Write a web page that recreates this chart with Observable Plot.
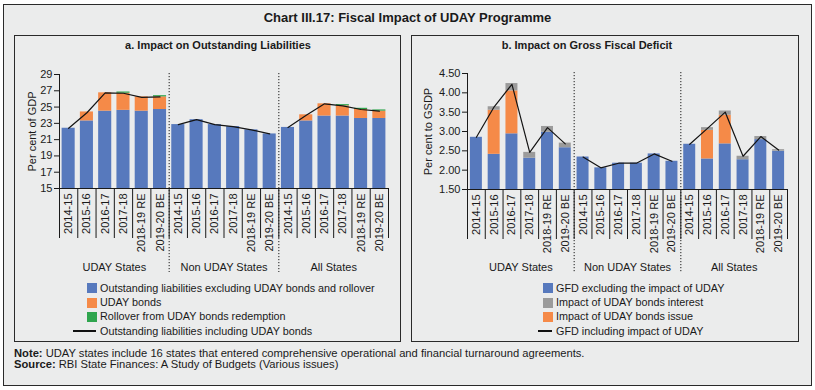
<!DOCTYPE html>
<html>
<head>
<meta charset="utf-8">
<script src="https://cdn.jsdelivr.net/npm/d3@7"></script>
<script src="https://cdn.jsdelivr.net/npm/@observablehq/plot@0.6"></script>
<style>
  body { margin:0; background:#fff; font-family:"Liberation Sans", Arial, sans-serif; color:#1a1a1a; }
  #root { position:relative; width:815px; height:390px; overflow:hidden; }
  .abs { position:absolute; }
  .box { position:absolute; box-sizing:border-box; border:1px solid #2a2a2a; background:#ebecec; }
  .title { font-weight:bold; white-space:nowrap; }
  .leg { position:absolute; font-size:10.8px; white-space:nowrap; line-height:12px; }
  .sw { position:absolute; width:10px; height:10px; }
  .ln { position:absolute; height:2px; background:#111; }
  .note { position:absolute; left:14px; font-size:11.2px; white-space:nowrap; line-height:10.5px; }
</style>
</head>
<body>
<div id="root">
  <div class="box" style="left:3px;top:4px;width:809px;height:382px;"></div>
  <div class="abs title" style="left:0;top:10px;width:815px;text-align:center;font-size:13px;">Chart III.17: Fiscal Impact of UDAY Programme</div>
  <div class="box" style="left:14px;top:35px;width:387px;height:307px;"></div>
  <div class="box" style="left:411px;top:35px;width:388px;height:307px;"></div>
  <div class="abs title" style="left:118px;top:39px;width:200px;text-align:center;font-size:11px;">a. Impact on Outstanding Liabilities</div>
  <div class="abs title" style="left:487px;top:39px;width:200px;text-align:center;font-size:11px;">b. Impact on Gross Fiscal Deficit</div>
  <div id="chartA" class="abs" style="left:14px;top:60px;"></div>
  <div id="chartB" class="abs" style="left:411px;top:60px;"></div>
  <div id="legA"></div>
  <div id="legB"></div>
  <div class="note" style="top:348px;"><b>Note:</b> UDAY states include 16 states that entered comprehensive operational and financial turnaround agreements.</div>
  <div class="note" style="top:359px;"><b>Source:</b> RBI State Finances: A Study of Budgets (Various issues)</div>
</div>
<script>
// ---------- data ----------
const years = ["2014-15", "2015-16", "2016-17", "2017-18", "2018-19 RE", "2019-20 BE"];
const groups = ["UDAY States", "Non UDAY States", "All States"];

// Panel a: per cent of GDP (UDAY | Non UDAY | All)
const liabExcl  = [22.4, 23.3, 24.5, 24.6, 24.5, 24.7,   22.85, 23.45, 22.85, 22.6, 22.2, 21.7,   22.5, 23.3, 23.9, 23.9, 23.6, 23.6];
const udayBonds = [0.0, 1.1, 2.25, 2.1, 1.75, 1.55,      0, 0, 0, 0, 0, 0,                         0.0, 0.75, 1.5, 1.25, 1.1, 0.9];
const rollover  = [0, 0, 0, 0.15, 0, 0.15,               0, 0, 0, 0, 0, 0,                         0, 0, 0, 0.15, 0.15, 0.15];
const liabIncl  = [22.4, 24.3, 26.75, 26.7, 26.2, 26.25, 22.85, 23.45, 22.85, 22.6, 22.2, 21.7,   22.5, 24.0, 25.4, 25.15, 24.7, 24.5];

// Panel b: per cent to GSDP
const gfdExcl      = [2.85, 2.41, 2.94, 2.31, 2.98, 2.58,  2.34, 2.06, 2.18, 2.18, 2.42, 2.23,  2.67, 2.29, 2.68, 2.27, 2.79, 2.49];
const udayIssue    = [0, 1.14, 1.11, 0, 0, 0,               0, 0, 0, 0, 0, 0,                    0, 0.74, 0.74, 0, 0, 0];
const udayInterest = [0, 0.09, 0.19, 0.15, 0.15, 0.12,      0, 0, 0, 0, 0, 0,                    0, 0.07, 0.11, 0.09, 0.08, 0.04];
const gfdIncl      = [2.85, 3.64, 4.22, 2.46, 3.10, 2.68,  2.34, 2.06, 2.18, 2.18, 2.42, 2.23,  2.67, 3.08, 3.50, 2.36, 2.87, 2.52];

const yTicksA = [15, 17, 19, 21, 23, 25, 27, 29];
const yTicksB = [1.5, 2.0, 2.5, 3.0, 3.5, 4.0, 4.5];

const legendA = ["Outstanding liabilities excluding UDAY bonds and rollover", "UDAY bonds", "Rollover from UDAY bonds redemption", "Outstanding liabilities including UDAY bonds"];
const legendB = ["GFD excluding the impact of UDAY", "Impact of UDAY bonds interest", "Impact of UDAY bonds issue", "GFD including impact of UDAY"];

const BLUE = "#5779bd", ORANGE = "#f58a48", GREEN = "#2fa54e", GRAY = "#9b9b9b";

// ---------- helpers ----------
const n = years.length * groups.length;
const idx = d3.range(n);
const centers = idx.map(i => i + 0.5);
const bounds = d3.range(n + 1);
const groupCenters = groups.map((g, k) => (k + 0.5) * years.length);
const groupSeps = groups.slice(1).map((g, k) => (k + 1) * years.length);

function stack(base, layers) {
  const out = [];
  idx.forEach(i => {
    let y0 = base;
    layers.forEach(([vals, color, first]) => {
      const y1 = first ? vals[i] : y0 + vals[i];
      if (y1 > y0) out.push({x1: i, x2: i + 1, y1: y0, y2: y1, fill: color});
      y0 = y1;
    });
  });
  return out;
}

function panel({segments, incl, yDomain, yTicks, yFmt, yLabel, width, height, mL, mR, mT, mB, inset, labelDx, groupDy}) {
  const lineData = idx.map(i => ({x: i + 0.5, y: incl[i], g: Math.floor(i / years.length)}));
  return Plot.plot({
    width, height, marginLeft: mL, marginRight: mR, marginTop: mT, marginBottom: mB,
    style: {background: "transparent", fontFamily: "'Liberation Sans', Arial, sans-serif", fontSize: "11px", color: "#1a1a1a", overflow: "visible"},
    x: {domain: [0, n], axis: null},
    y: {domain: yDomain, axis: null},
    color: {type: "identity"},
    marks: [
      Plot.rect(segments, {x1: "x1", x2: "x2", y1: "y1", y2: "y2", fill: "fill", insetLeft: inset, insetRight: inset}),
      Plot.line(lineData, {x: "x", y: "y", z: "g", stroke: "#141414", strokeWidth: 1.2}),
      Plot.ruleY([yDomain[0]], {stroke: "#1a1a1a"}),
      Plot.ruleX([0], {stroke: "#1a1a1a"}),
      Plot.axisY({ticks: yTicks, tickSize: 5, tickPadding: 2, tickFormat: yFmt, label: null}),
      Plot.axisX(centers, {tickSize: 0, tickPadding: 5, tickRotate: -90, tickFormat: d => years[Math.floor(d) % years.length], label: null}),
      Plot.axisX(bounds, {tickSize: 50, tickFormat: () => "", label: null}),
      Plot.ruleX(groupSeps, {stroke: "#1a1a1a", strokeDasharray: "1.2,1.8", insetTop: -1, insetBottom: -84}),
      Plot.text(groups, {x: (d, k) => groupCenters[k], frameAnchor: "bottom", dy: groupDy, fontSize: 11}),
      Plot.text([yLabel], {frameAnchor: "left", textAnchor: "middle", rotate: -90, dx: labelDx, fontSize: 11})
    ]
  });
}

const segA = stack(yTicksA[0], [[liabExcl, BLUE, true], [udayBonds, ORANGE], [rollover, GREEN]]);
const segB = stack(yTicksB[0], [[gfdExcl, BLUE, true], [udayIssue, ORANGE], [udayInterest, GRAY]]);

document.getElementById("chartA").append(panel({
  segments: segA, incl: liabIncl, yDomain: [15, 29], yTicks: yTicksA, yFmt: d3.format("d"),
  yLabel: "Per cent of GDP", width: 386, height: 216, mL: 45, mR: 12, mT: 14, mB: 88, inset: 2.6, labelDx: -27, groupDy: 82
}));
document.getElementById("chartB").append(panel({
  segments: segB, incl: gfdIncl, yDomain: [1.5, 4.5], yTicks: yTicksB, yFmt: d3.format(".2f"),
  yLabel: "Per cent to GSDP", width: 387, height: 216, mL: 56, mR: 11, mT: 13, mB: 87, inset: 2.9, labelDx: -39, groupDy: 81
}));

function legend(el, items, colors, swX, lineX, textX) {
  const root = document.getElementById(el);
  const rows = [288, 302.5, 316.7, 331];
  items.forEach((t, k) => {
    if (colors[k]) {
      const s = document.createElement("div");
      s.className = "sw"; s.style.left = swX + "px"; s.style.top = (rows[k] - 5) + "px"; s.style.background = colors[k];
      root.append(s);
    } else {
      const l = document.createElement("div");
      l.className = "ln"; l.style.left = lineX + "px"; l.style.top = (rows[k] - 1) + "px"; l.style.width = (swX + 9 - lineX) + "px";
      root.append(l);
    }
    const d = document.createElement("div");
    d.className = "leg"; d.textContent = t; d.style.left = textX + "px"; d.style.top = (rows[k] - 6.5) + "px";
    root.append(d);
  });
}
legend("legA", legendA, [BLUE, ORANGE, GREEN, null], 87, 73, 100);
legend("legB", legendB, [BLUE, GRAY, ORANGE, null], 543, 538, 556);
</script>
</body>
</html>
